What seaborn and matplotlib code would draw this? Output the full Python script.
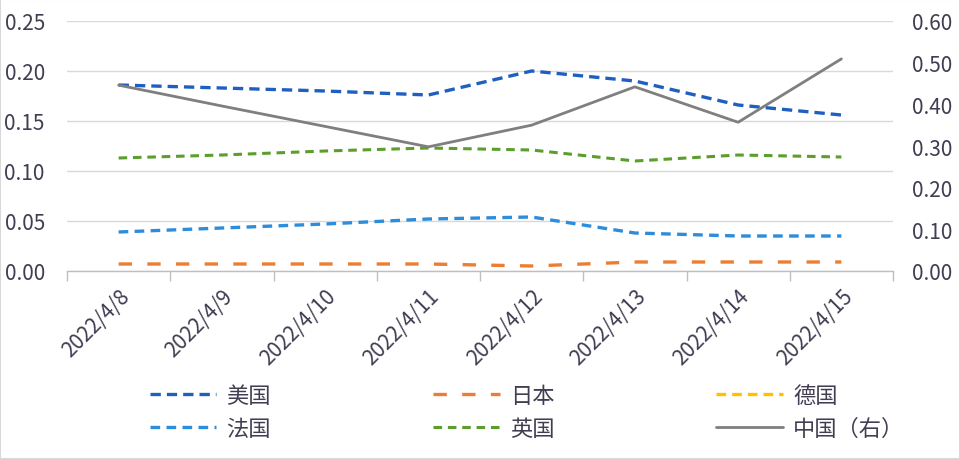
import matplotlib
matplotlib.use('Agg')
import matplotlib.pyplot as plt
import matplotlib.transforms as mtransforms
import seaborn as sns
import numpy as np
from matplotlib.lines import Line2D
from matplotlib.patches import Rectangle

dates = ['2022/4/8', '2022/4/9', '2022/4/10', '2022/4/11',
         '2022/4/12', '2022/4/13', '2022/4/14', '2022/4/15']
usa = [0.186, 0.183, 0.180, 0.176, 0.200, 0.190, 0.166, 0.156]
japan = [0.007, 0.007, 0.007, 0.007, 0.005, 0.009, 0.009, 0.009]
germany = [np.nan] * 8  # not visible in the chart
france = [0.039, 0.043, 0.047, 0.052, 0.054, 0.038, 0.035, 0.035]
uk = [0.113, 0.116, 0.120, 0.123, 0.121, 0.110, 0.116, 0.114]
china = [0.446, 0.396, 0.347, 0.298, 0.350, 0.442, 0.357, 0.509]
left_ticks = [0.00, 0.05, 0.10, 0.15, 0.20, 0.25]
right_ticks = [0.00, 0.10, 0.20, 0.30, 0.40, 0.50, 0.60]
names = ['美国', '日本', '德国', '法国', '英国', '中国（右）']

sns.set_theme(style='white')
plt.rcParams['font.family'] = ['Noto Sans CJK SC', 'DejaVu Sans']
TXT = '#423d52'

fig = plt.figure(figsize=(9.6, 4.6), dpi=100)
fig.patch.set_facecolor('white')
ax = fig.add_subplot(111)
fig.subplots_adjust(left=67/960, right=893/960, top=1-22/460, bottom=1-272/460)

styles = {
    '美国': dict(color='#1f5fbf', lw=2.4, ls=(0, (3.1, 1.8))),
    '日本': dict(color='#ed7d31', lw=2.4, ls=(0, (4.0, 4.6))),
    '德国': dict(color='#ffc000', lw=2.4, ls=(0, (2.9, 1.8))),
    '法国': dict(color='#2e8ddb', lw=2.4, ls=(0, (2.9, 1.9))),
    '英国': dict(color='#5b9e2c', lw=2.2, ls=(0, (2.8, 1.9))),
    '中国（右）': dict(color='#7f7f7f', lw=2.0, ls='-'),
}

for name, vals in [('英国', uk), ('日本', japan), ('法国', france), ('美国', usa)]:
    s = styles[name]
    sns.lineplot(x=dates, y=vals, ax=ax, color=s['color'], linewidth=s['lw'],
                 linestyle=s['ls'], sort=False)

ax2 = ax.twinx()
s = styles['中国（右）']
sns.lineplot(x=dates, y=china, ax=ax2, color=s['color'], linewidth=s['lw'],
             linestyle=s['ls'], sort=False)

ax.set_xlim(-0.5, 7.5)
ax.set_ylim(0, 0.25)
ax2.set_ylim(0, 0.60)
ax.set_yticks(left_ticks)
ax.set_yticklabels([f'{v:.2f}' for v in left_ticks])
ax2.set_yticks(right_ticks)
ax2.set_yticklabels([f'{v:.2f}' for v in right_ticks])

ax.set_xticks(range(len(dates)))
ax.set_xticklabels(dates, rotation=45, ha='right', va='top', rotation_mode='anchor')
offset = mtransforms.ScaledTranslation(-4/100, 0, fig.dpi_scale_trans)
for lab in ax.get_xticklabels():
    lab.set_transform(lab.get_transform() + offset)
ax.set_xticks(np.arange(-0.5, len(dates), 1.0), minor=True)
ax.tick_params(axis='x', which='major', length=0, pad=10, labelsize=15, labelcolor=TXT)
ax.tick_params(axis='x', which='minor', length=7, width=1, color='#bfbfbf', direction='out', bottom=True)
ax.tick_params(axis='y', length=0, pad=16, labelsize=15, labelcolor=TXT)
ax2.tick_params(axis='y', length=0, pad=14, labelsize=15, labelcolor=TXT)

ax.yaxis.grid(True, color='#d9d9d9', lw=1)
ax.set_axisbelow(True)
ax2.grid(False)
for sp in ['left', 'right', 'top']:
    ax.spines[sp].set_visible(False)
ax.spines['bottom'].set_color('#bfbfbf')
ax.spines['bottom'].set_linewidth(1)
for sp in ax2.spines.values():
    sp.set_visible(False)
ax.set_xlabel('')
ax.set_ylabel('')
ax2.set_ylabel('')

handles = [Line2D([], [], color=styles[n]['color'], lw=styles[n]['lw'], ls=styles[n]['ls']) for n in names]
order = [0, 3, 1, 4, 2, 5]
fig.legend([handles[i] for i in order], [names[i] for i in order], ncol=3,
           loc='center', bbox_to_anchor=(0.549, 0.102), frameon=False,
           fontsize=16, labelcolor=TXT, handlelength=3.0, columnspacing=7.3,
           handletextpad=0.45, labelspacing=0.45)

fig.patches.append(Rectangle((0, 0), 1, 1, transform=fig.transFigure, fill=False,
                             edgecolor='#d9d9d9', lw=1.5))

fig.savefig('out.png', dpi=100)
